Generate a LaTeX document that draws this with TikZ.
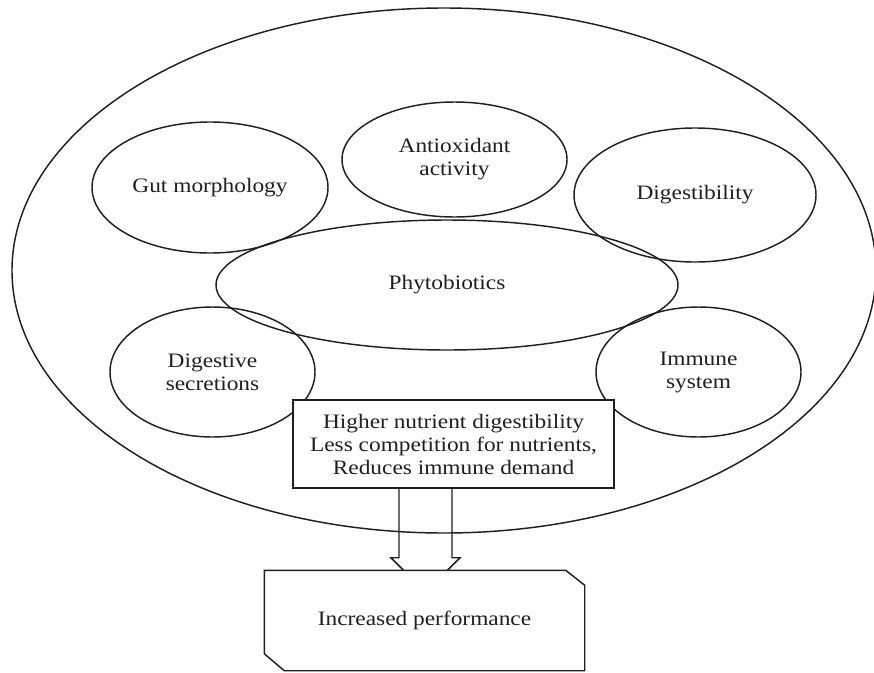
\documentclass[tikz,border=0pt]{standalone}
\usepackage{fontspec}
\setmainfont{Liberation Serif}[FakeStretch=1.14]
\usetikzlibrary{shapes.geometric,calc}
\begin{document}
\begin{tikzpicture}[x=1pt,y=-1pt, line width=1.45pt,
  every node/.style={font=\fontsize{20.5}{23}\selectfont, text=black!88, align=center, inner sep=0pt},
  bubble/.style={draw=black!88, ellipse, inner sep=0pt},
  lin/.style={draw=black!88, line join=miter}]
\useasboundingbox (0,0) rectangle (874,672);
\fill[white] (0,0) rectangle (874,672);
% outer ellipse
\node[bubble, minimum width=864, minimum height=525] (outer) at (444,270.5) {};
% inner bubbles
\node[bubble, minimum width=236, minimum height=131] (gut) at (210,187.5) {Gut morphology};
\node[bubble, minimum width=225, minimum height=115] (anti) at (454.5,159.5) {Antioxidant\\activity};
\node[bubble, minimum width=242, minimum height=134] (dig) at (695,195) {Digestibility};
\node[bubble, minimum width=462, minimum height=130] (phyto) at (447,285) {Phytobiotics};
\node[bubble, minimum width=205, minimum height=130] (secr) at (212.5,372) {Digestive\\secretions};
\node[bubble, minimum width=205, minimum height=130] (imm) at (698.5,372) {Immune\\system};
% effects box
\node[lin, fill=white, minimum width=321, minimum height=88] (eff) at (453.5,444)
  {Higher nutrient digestibility\\Less competition for nutrients,\\Reduces immune demand};
% block arrow
\coordinate (s) at ($(eff.south)+(-28,0)$);
\draw[lin] ($(s)+(-26.5,0)$) -- ($(s)+(-26.5,69)$) -- ($(s)+(-34.5,69)$) -- ($(s)+(0,103.5)$)
  -- ($(s)+(34.5,69)$) -- ($(s)+(26.5,69)$) -- ($(s)+(26.5,0)$);
% result box
\node[fill=white, minimum width=319, minimum height=99] (perf) at (424.5,620.5) {Increased performance};
\draw[lin] (perf.north west) -- ($(perf.north east)+(-19,0)$) -- ($(perf.north east)+(0,15)$)
  -- (perf.south east) -- ($(perf.south west)+(20,0)$) -- ($(perf.south west)+(0,-17)$) -- cycle;
\end{tikzpicture}
\end{document}
